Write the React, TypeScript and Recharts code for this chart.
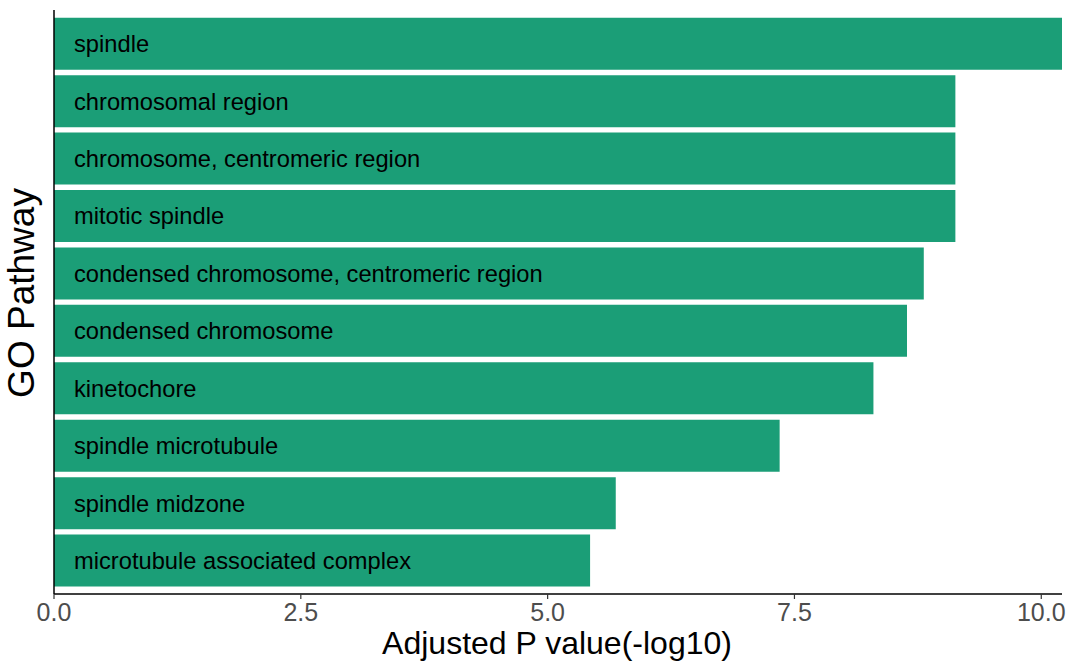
import { BarChart, Bar, XAxis, YAxis, LabelList, Label } from 'recharts';

const pathways = [
  'spindle',
  'chromosomal region',
  'chromosome, centromeric region',
  'mitotic spindle',
  'condensed chromosome, centromeric region',
  'condensed chromosome',
  'kinetochore',
  'spindle microtubule',
  'spindle midzone',
  'microtubule associated complex',
];

const adjustedP = [10.21, 9.13, 9.13, 9.13, 8.81, 8.64, 8.3, 7.35, 5.69, 5.43];

const xTicks = [0, 2.5, 5, 7.5, 10];

const data = pathways.map((name, i) => ({ name, value: adjustedP[i] }));

const FONT = 'Arial, "Liberation Sans", sans-serif';

function YTitle({ viewBox }: any) {
  const cx = viewBox.x + 34;
  const cy = viewBox.y + viewBox.height / 2 - 9;
  return (
    <text
      x={cx}
      y={cy}
      transform={`rotate(-90 ${cx} ${cy})`}
      textAnchor="middle"
      fontSize={37}
      fontFamily={FONT}
      fill="#000"
    >
      GO Pathway
    </text>
  );
}

function XTitle({ viewBox }: any) {
  return (
    <text
      x={viewBox.x + viewBox.width / 2 - 1}
      y={viewBox.y + 59.5}
      textAnchor="middle"
      fontSize={32}
      fontFamily={FONT}
      fill="#000"
    >
      Adjusted P value(-log10)
    </text>
  );
}

export default function App() {
  return (
    <div style={{ position: 'fixed', left: 0, top: 0, width: 1069, height: 667, background: '#fff' }}>
      <BarChart
        width={1069}
        height={667}
        data={data}
        layout="vertical"
        margin={{ top: 10, right: 7, left: 0, bottom: 0 }}
        barCategoryGap="5%"
      >
        <XAxis
          type="number"
          domain={[0, 10.21]}
          ticks={xTicks}
          tickFormatter={(v: number) => v.toFixed(1)}
          height={73}
          tickSize={5}
          tickMargin={4}
          axisLine={{ stroke: '#000', strokeWidth: 1.5 }}
          tickLine={{ stroke: '#333333', strokeWidth: 1.2 }}
          tick={{ fill: '#4D4D4D', fontSize: 25, fontFamily: FONT }}
          allowDataOverflow
        >
          <Label content={<XTitle />} />
        </XAxis>
        <YAxis
          type="category"
          dataKey="name"
          width={54}
          tick={false}
          tickLine={false}
          axisLine={{ stroke: '#000', strokeWidth: 1.5 }}
          padding={{ top: 4.9, bottom: 4.9 }}
        >
          <Label content={<YTitle />} />
        </YAxis>
        <Bar dataKey="value" fill="#1B9E77" isAnimationActive={false}>
          <LabelList
            dataKey="name"
            position="insideLeft"
            offset={20}
            fill="#000"
            fontSize={23.7}
            fontFamily={FONT}
          />
        </Bar>
      </BarChart>
    </div>
  );
}
